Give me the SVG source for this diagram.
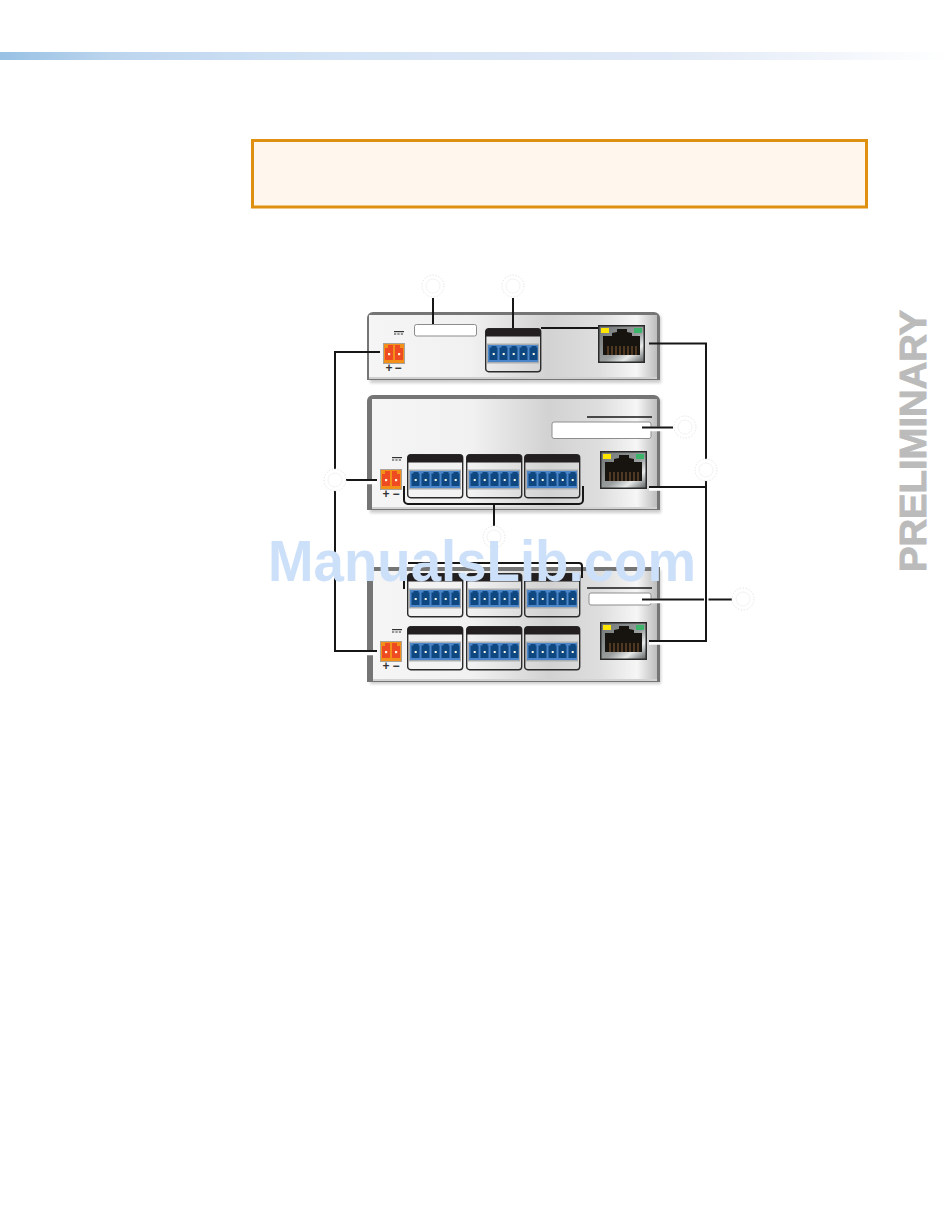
<svg xmlns="http://www.w3.org/2000/svg" xmlns:xlink="http://www.w3.org/1999/xlink" width="950" height="1229" viewBox="0 0 950 1229">
<style>
.ln{fill:none;stroke:#161616;stroke-width:2}
.halo{fill:none;stroke:#fff;stroke-width:4.5}
.slot{fill:#fff;stroke:#8d8d8d;stroke-width:1}
.box{fill:none;stroke:#2b2b2b;stroke-width:1.4}
.hdr{fill:#231f20}
.pm{font-family:"Liberation Sans",Arial,sans-serif;font-weight:700;font-size:12px;fill:#333;text-anchor:middle}
.call{fill:#fff;stroke:#dedede;stroke-width:.8;stroke-dasharray:1.5 1.5}
.callin{fill:none;stroke:#efefef;stroke-width:.8}
</style>
<defs>
<linearGradient id="bar" x1="0" x2="1" y1="0" y2="0"><stop offset="0" stop-color="#98c1e4"/><stop offset=".12" stop-color="#bcd5ee"/><stop offset=".35" stop-color="#d3e3f5"/><stop offset=".7" stop-color="#dfe8f6"/><stop offset="1" stop-color="#ffffff"/></linearGradient>
<linearGradient id="metal" x1="0" x2="1" y1="0" y2="0"><stop offset="0" stop-color="#f5f5f5"/><stop offset=".35" stop-color="#f1f1f1"/><stop offset=".62" stop-color="#d2d2d2"/><stop offset=".8" stop-color="#dedede"/><stop offset=".93" stop-color="#f6f6f6"/><stop offset="1" stop-color="#bdbdbd"/></linearGradient>
<linearGradient id="rjbg" x1="0" x2="1" y1="0" y2="1"><stop offset="0" stop-color="#6f7474"/><stop offset=".55" stop-color="#9a9e9e"/><stop offset=".75" stop-color="#e8eaea"/><stop offset="1" stop-color="#585c5c"/></linearGradient>
<filter id="sh" x="-5%" y="-5%" width="110%" height="115%"><feGaussianBlur stdDeviation="1.5"/></filter>
<g id="plug">
<rect width="52" height="20" fill="#a9adb0"/>
<rect x="1" y="1.5" width="50" height="17" fill="#4a86c9"/>
<g fill="#0f4781">
<path d="M2.5 4h2v-1.5h5v1.5h1v12.5h-8z"/>
<path d="M12.5 4h2v-1.5h5v1.5h1v12.5h-8z"/><path d="M22.5 4h2v-1.5h5v1.5h1v12.5h-8z"/><path d="M32.5 4h2v-1.5h5v1.5h1v12.5h-8z"/><path d="M42.5 4h2v-1.5h5v1.5h1v12.5h-8z"/>
</g>
<g fill="#fbfbe6"><rect x="5.7" y="9.5" width="2" height="2"/><rect x="15.7" y="9.5" width="2" height="2"/><rect x="25.7" y="9.5" width="2" height="2"/><rect x="35.7" y="9.5" width="2" height="2"/><rect x="45.7" y="9.5" width="2" height="2"/></g>
</g>
<g id="term">
<rect width="22" height="21" fill="#a8a29a"/>
<rect x="1" y="1" width="20" height="19" fill="#f3901a"/>
<path d="M2 5h3v-3h5v15h-8zM12 2h5v3h3v12h-8z" fill="#ee4b23"/>
<g fill="#fff3d8"><rect x="5" y="10" width="2.2" height="2.2"/><rect x="15" y="10" width="2.2" height="2.2"/></g>
</g>
<g id="dc"><rect width="10" height="1.2" fill="#333"/><path d="M0 3h10" stroke="#333" stroke-width="1.1" stroke-dasharray="2.2 1.2"/></g>
<g id="rj">
<rect x=".75" y=".75" width="45.5" height="36.5" fill="url(#rjbg)" stroke="#2a2a2a" stroke-width="1.5"/>
<path d="M5 10h9v-3l5-1v-3h10v3l5 1v3h8v19h-37z" fill="#17140f" transform="translate(0,1)"/>
<g stroke="#8a5f36" stroke-width="1"><path d="M10 21v9M14 21v9M18 21v9M22 21v9M26 21v9M30 21v9M34 21v9M38 21v9"/></g>
<rect x="3" y="3" width="8" height="5" fill="#ffe600"/>
<rect x="36" y="3" width="8" height="5" fill="#3cb56a"/>
</g>
<g id="conn">
<rect x=".7" y=".7" width="55" height="43" rx="3" fill="#eeeeee" fill-opacity=".6" class="box"/>
<path class="hdr" d="M.7 8.5V3.7a3 3 0 0 1 3-3h49a3 3 0 0 1 3 3v4.8z"/>
<use href="#plug" x="2" y="15.5"/>
</g>
</defs>

<rect id="top-bar" x="0" y="52" width="950" height="8" fill="url(#bar)"/>
<rect id="notice" x="252.5" y="140.5" width="614" height="66.5" fill="#fff7ed" stroke="#e09010" stroke-width="3"/>
<text id="preliminary" transform="translate(926,572) rotate(-90)" font-family="'Liberation Sans',Arial,sans-serif" font-weight="700" font-size="37.5" fill="#bbbbbb" stroke="#bbbbbb" stroke-width=".9" textLength="262" lengthAdjust="spacingAndGlyphs">PRELIMINARY</text>

<g id="device-1">
<rect x="370" y="316" width="291" height="67" fill="#9a9a9a" opacity=".5" filter="url(#sh)"/>
<path d="M367 380V318a6 6 0 0 1 6-6h281a6 6 0 0 1 6 6v62z" fill="#757575"/>
<rect x="369" y="315" width="288" height="64" fill="url(#metal)"/>
<rect x="369" y="377" width="288" height="2" fill="#d0d0d0"/>
<use href="#dc" x="394" y="331"/>
<rect class="slot" x="414.5" y="324.5" width="62" height="11.5" rx="2"/>
<use href="#conn" x="485" y="328"/>
<use href="#rj" x="598" y="325"/>
<use href="#term" x="383" y="343"/>
<text class="pm" x="389" y="372">+</text><text class="pm" x="398" y="372">−</text>
</g>

<g id="device-2">
<rect x="370" y="399" width="291" height="114" fill="#9a9a9a" opacity=".5" filter="url(#sh)"/>
<path d="M367 510V401a6 6 0 0 1 6-6h281a6 6 0 0 1 6 6v109z" fill="#757575"/>
<rect x="372" y="399" width="285" height="110" fill="url(#metal)"/>
<rect x="372" y="507" width="285" height="2" fill="#d2d2d2"/>
<use href="#dc" x="392" y="457"/>
<path d="M587 417h65" class="ln" style="stroke-width:1.5"/>
<rect class="slot" x="552" y="422" width="99" height="16.5" rx="2"/>
<use href="#conn" x="407" y="454"/><use href="#conn" x="466" y="454"/><use href="#conn" x="524" y="454"/>
<use href="#rj" x="600" y="451"/>
<use href="#term" x="380" y="469"/>
<text class="pm" x="386" y="498">+</text><text class="pm" x="396" y="498">−</text>
</g>

<g id="device-3">
<rect x="370" y="570" width="291" height="114" fill="#9a9a9a" opacity=".5" filter="url(#sh)"/>
<rect x="367" y="567" width="293" height="115" fill="#757575"/>
<rect x="373" y="571" width="284" height="110" fill="url(#metal)"/>
<rect x="373" y="679" width="284" height="2" fill="#d2d2d2"/>
<use href="#dc" x="392" y="629"/>
<path d="M587 588h65" class="ln" style="stroke-width:1.5"/>
<rect class="slot" x="589" y="593" width="62" height="12" rx="2"/>
<use href="#conn" x="407" y="573"/><use href="#conn" x="466" y="573"/><use href="#conn" x="524" y="573"/>
<use href="#conn" x="407" y="626"/><use href="#conn" x="466" y="626"/><use href="#conn" x="524" y="626"/>
<use href="#rj" x="600" y="622"/>
<use href="#term" x="380" y="641"/>
<text class="pm" x="386" y="670">+</text><text class="pm" x="396" y="670">−</text>
</g>

<g id="connectors">
<path class="halo" d="M642 601H704M649 642.5H704M649 488.5H704M645 429H672M350 653H377M350 482H377"/>
<path class="ln" d="M433 298V324M513 298V328M541 328H598"/>
<path class="ln" d="M649 343.5H706V641H649M649 487H706"/>
<path class="ln" d="M380 352H335V651H377M346 480H377"/>
<path class="ln" d="M642 427.5H673M642 599.5H704M708.5 599.5H732"/>
<path class="ln" d="M404 486V500a4 4 0 0 0 4 4H579a4 4 0 0 0 4-4V486M494 504V526"/>
<path class="ln" d="M404 589V579M582 578V566a3 3 0 0 0-3-3H408M494 548V563"/>
</g>

<g id="callout-1"><circle class="call" cx="433" cy="286" r="11"/><circle class="callin" cx="433" cy="286" r="7"/></g>
<g id="callout-2"><circle class="call" cx="513" cy="286" r="11"/><circle class="callin" cx="513" cy="286" r="7"/></g>
<g id="callout-3"><circle class="call" cx="685" cy="427" r="11"/><circle class="callin" cx="685" cy="427" r="7"/></g>
<g id="callout-4"><circle class="call" cx="706" cy="470" r="11"/><circle class="callin" cx="706" cy="470" r="7"/></g>
<g id="callout-5"><circle class="call" cx="335" cy="480" r="11"/><circle class="callin" cx="335" cy="480" r="7"/></g>
<g id="callout-6"><circle class="call" cx="494" cy="537" r="11"/><circle class="callin" cx="494" cy="537" r="7"/></g>
<g id="callout-7"><circle class="call" cx="743" cy="599" r="11"/><circle class="callin" cx="743" cy="599" r="7"/></g>

<text id="watermark" x="268" y="581" font-family="'Liberation Sans',Arial,sans-serif" font-weight="700" font-size="57" fill="#cde0f9" textLength="428" lengthAdjust="spacingAndGlyphs">ManualsLib.com</text>
</svg>
